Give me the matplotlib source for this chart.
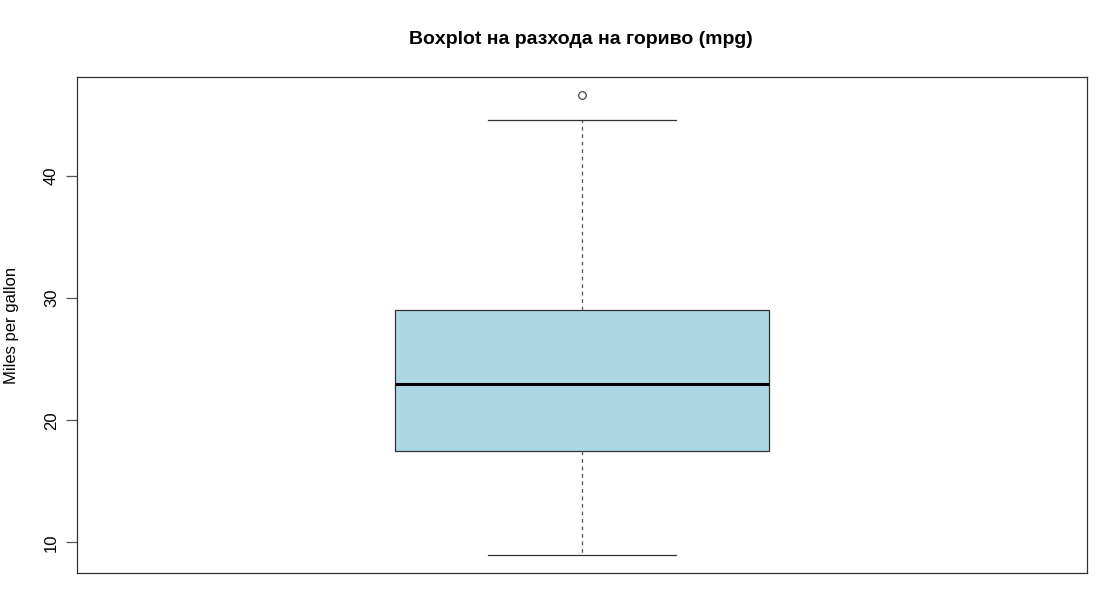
import matplotlib
matplotlib.use("Agg")
import matplotlib.pyplot as plt

plt.rcParams['font.family'] = ['Liberation Sans', 'DejaVu Sans']

# Boxplot statistics (mpg)
stat_label = ["mpg"]
whisker_low = [9.0]
q1 = [17.5]
median = [23.0]
q3 = [29.0]
whisker_high = [44.6]
outliers = [[46.6]]
yticks = [10, 20, 30, 40]

stats = []
for i in range(len(stat_label)):
    stats.append(dict(label=stat_label[i], whislo=whisker_low[i], q1=q1[i], med=median[i],
                      q3=q3[i], whishi=whisker_high[i], fliers=outliers[i]))

fig = plt.figure(figsize=(11.08, 6.07), dpi=100)
ax = fig.add_axes([77/1108, 1 - 573/607, (1087-77)/1108, (573-77)/607])

ax.bxp(stats, positions=[1], widths=0.4, patch_artist=True, showfliers=True,
       capwidths=0.2,
       boxprops=dict(facecolor='#ADD8E6', edgecolor='#333333', linewidth=0.9),
       medianprops=dict(color='black', linewidth=2.2),
       whiskerprops=dict(color='#555555', linewidth=0.9, linestyle=(0, (3, 3))),
       capprops=dict(color='#333333', linewidth=0.9),
       flierprops=dict(marker='o', markersize=5.5, markerfacecolor='none',
                       markeredgecolor='#333333', markeredgewidth=0.8))

lo = min(whisker_low + [min(o) for o in outliers if o])
hi = max(whisker_high + [max(o) for o in outliers if o])
pad = (hi - lo) * 0.04
ax.set_ylim(lo - pad, hi + pad)
ax.set_xlim(0.46, 1.54)

ax.set_xticks([])
ax.set_yticks(yticks)
ax.set_yticklabels([str(t) for t in yticks], rotation=90, va='center', fontsize=12)
ax.tick_params(axis='y', direction='out', length=8, width=0.9, color='#555555', pad=5)
for s in ax.spines.values():
    s.set_color('#333333')
    s.set_linewidth(0.9)

ax.set_ylabel("Miles per gallon", fontsize=12, va='center')
ax.yaxis.set_label_coords((12 - 77) / 1010, 0.5)
fig.text(581/1108, 1 - 40/607, "Boxplot на разхода на гориво (mpg)", ha='center', va='center',
         fontsize=14, fontweight='bold')

fig.savefig("out.png", dpi=100)
